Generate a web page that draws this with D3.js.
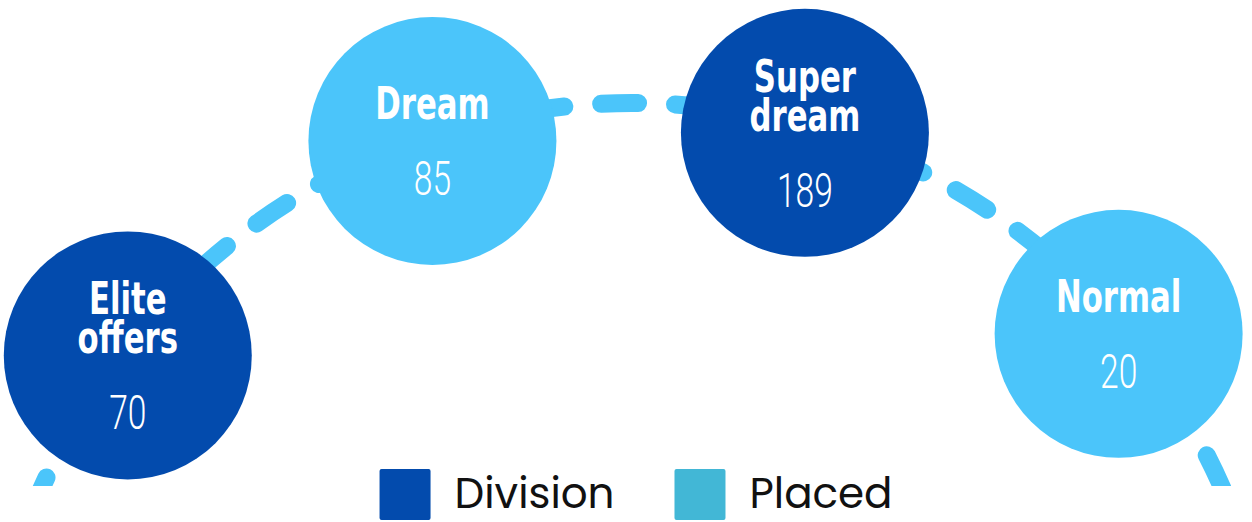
<!DOCTYPE html>
<html>
<head>
<meta charset="utf-8">
<script src="https://cdn.jsdelivr.net/npm/d3@7"></script>
<style>
  body { margin: 0; background: #fff; }
  .label { font-family: "DejaVu Sans Condensed", "Liberation Sans Narrow", sans-serif; font-weight: bold; fill: #fff; }
  .value { font-family: Roboto, "DejaVu Sans Condensed", sans-serif; font-weight: 300; fill: #fff; }
  .legend-text { font-family: "Poppins", "Noto Sans", sans-serif; fill: #111; }
</style>
</head>
<body>
<script>
// data
const categories = ["Elite offers", "Dream", "Super dream", "Normal"];
const values = [70, 85, 189, 20];
const groups = ["Division", "Placed", "Division", "Placed"];
const legendKeys = ["Division", "Placed"];

const width = 1252,
  height = 522;

const data = categories.map((c, i) => ({ name: c, value: values[i], group: groups[i] }));

const svg = d3.select("body").append("svg")
  .attr("width", width)
  .attr("height", height);

// big arc everything sits on
const arcCx = 632, arcCy = 748, arcR = 645;
const bubbleR = 639;

// angle (degrees, 0 = top) of each bubble along the arc
const angle = d3.scalePoint()
  .domain(categories)
  .range([-52.1, 49.6]);

const fill = d3.scaleOrdinal().domain(legendKeys).range(["#034bad", "#4bc5fa"]);
const legendFill = d3.scaleOrdinal().domain(legendKeys).range(["#034bad", "#42b7d6"]);

function pos(name) {
  const a = angle(name) * Math.PI / 180;
  return [arcCx + bubbleR * Math.sin(a), arcCy - bubbleR * Math.cos(a)];
}

//---------------------------------- dashed arc ----------------------------------//
svg.append("clipPath").attr("id", "clip")
  .append("rect").attr("x", 0).attr("y", 0).attr("width", width).attr("height", 486);

const p = d3.path();
p.arc(arcCx, arcCy, arcR, Math.PI, 2 * Math.PI);

svg.append("path")
  .attr("d", p.toString())
  .attr("clip-path", "url(#clip)")
  .attr("fill", "none")
  .attr("stroke", "#4bc5fa")
  .attr("stroke-width", 18)
  .attr("stroke-linecap", "round")
  .attr("stroke-dasharray", "37 37")
  .attr("stroke-dashoffset", 53.8);

//---------------------------------- bubbles ----------------------------------//
const r = 124;
const node = svg.selectAll(".node")
  .data(data)
  .enter()
  .append("g")
  .attr("class", "node")
  .attr("transform", d => "translate(" + pos(d.name) + ")");

node.append("circle")
  .attr("r", r)
  .attr("fill", d => fill(d.group));

const capH = 33, lineGap = 39, valueGap = 76;

node.each(function (d) {
  const g = d3.select(this);
  const lines = d.name.split(" ");
  const total = capH + (lines.length - 1) * lineGap + valueGap;
  const top = -total / 2;

  const t = g.append("text")
    .attr("class", "label")
    .attr("text-anchor", "middle")
    .attr("font-size", 45)
    .attr("transform", "scale(0.76,1)");
  lines.forEach((l, i) => {
    t.append("tspan")
      .attr("x", 0)
      .attr("y", top + capH + i * lineGap)
      .text(l);
  });

  g.append("text")
    .attr("class", "value")
    .attr("text-anchor", "middle")
    .attr("font-size", 48)
    .attr("transform", "scale(0.7,1)")
    .attr("y", top + capH + (lines.length - 1) * lineGap + valueGap)
    .text(d.value);
});

//---------------------------------- legend ----------------------------------//
const legend = svg.append("g");
let lx = 0;
legendKeys.forEach(k => {
  const item = legend.append("g").attr("transform", "translate(" + lx + ",0)");
  item.append("rect")
    .attr("x", 0).attr("y", 469)
    .attr("width", 51).attr("height", 51)
    .attr("rx", 2)
    .attr("fill", legendFill(k));
  const txt = item.append("text")
    .attr("class", "legend-text")
    .attr("x", 75)
    .attr("y", 508)
    .attr("font-size", 42)
    .text(k);
  lx += 75 + txt.node().getComputedTextLength() + 60;
});
const lw = lx - 60;
legend.attr("transform", "translate(" + (636 - lw / 2) + ",0)");
</script>
</body>
</html>
